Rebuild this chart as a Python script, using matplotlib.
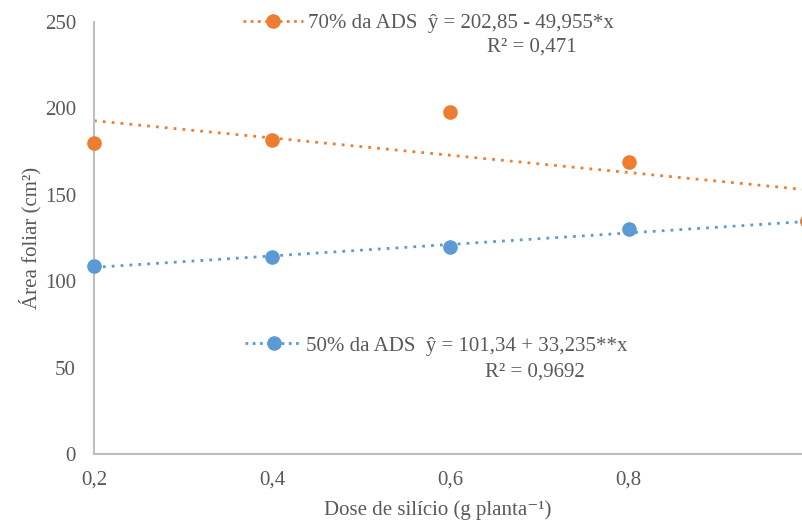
import matplotlib
matplotlib.use("Agg")
import numpy as np
import matplotlib.pyplot as plt
from matplotlib.lines import Line2D

plt.rcParams['font.family'] = ['Liberation Serif', 'DejaVu Serif']

# data
doses = [0.2, 0.4, 0.6, 0.8, 1.0]
area_70 = [180, 182, 198, 169, 135]
area_50 = [109, 114, 120, 130, 135]

# regression coefficients from the labels (intercept, slope)
coef_70 = (202.85, -49.955)
coef_50 = (101.34, 33.235)

xtick_vals = [0.2, 0.4, 0.6, 0.8]
xtick_labels = ['0,2', '0,4', '0,6', '0,8']
ytick_vals = [0, 50, 100, 150, 200, 250]

orange = '#ED7D31'
blue = '#5B9BD5'
txt = '#595959'

W, H = 803, 523
fig = plt.figure(figsize=(W / 100, H / 100), dpi=100)
ax = fig.add_axes([94 / W, (H - 454) / H, (807 - 94) / W, 432 / H])

xx = np.array([doses[0], doses[-1]])
ax.plot(xx, coef_70[0] + coef_70[1] * xx, ls=(0, (1, 2.2)), lw=2, color=orange, clip_on=False)
ax.plot(xx, coef_50[0] + coef_50[1] * xx, ls=(0, (1, 2.2)), lw=2, color=blue, clip_on=False)
ax.plot(doses, area_50, 'o', ms=9.5, color=blue, clip_on=False, zorder=5)
ax.plot(doses, area_70, 'o', ms=9.5, color=orange, clip_on=False, zorder=6)

ax.set_xlim(0.2, 1.0)
ax.set_ylim(0, 250)
ax.set_xticks(xtick_vals)
ax.set_xticklabels(xtick_labels)
ax.set_yticks(ytick_vals)
ax.tick_params(length=0, labelsize=15, colors=txt)
ax.tick_params(axis='x', pad=12)
ax.tick_params(axis='y', pad=13)
for s in ['top', 'right']:
    ax.spines[s].set_visible(False)
for s in ['left', 'bottom']:
    ax.spines[s].set_color('#BFBFBF')
    ax.spines[s].set_linewidth(1.5)

fig.text(30 / W, 1 - 238 / H, 'Área foliar (cm²)', fontsize=15, color=txt,
         rotation=90, ha='center', va='center')
fig.text(438 / W, 1 - 510 / H, 'Dose de silício (g planta⁻¹)',
         fontsize=15, color=txt, ha='center', va='center')

h70 = Line2D([], [], color=orange, ls=(0, (1, 1.6)), lw=2, marker='o', ms=9.5)
h50 = Line2D([], [], color=blue, ls=(0, (1, 1.6)), lw=2, marker='o', ms=9.5)
leg1 = ax.legend([h70], ['70% da ADS  ŷ = 202,85 - 49,955*x'], loc='center left',
                 bbox_to_anchor=(243 / W, 1 - 23 / H), bbox_transform=fig.transFigure,
                 frameon=False, fontsize=15, handlelength=2.9, handletextpad=0.2,
                 borderpad=0, borderaxespad=0, labelcolor=txt)
ax.add_artist(leg1)
ax.legend([h50], ['50% da ADS  ŷ = 101,34 + 33,235**x'], loc='center left',
          bbox_to_anchor=(245 / W, 1 - 346 / H), bbox_transform=fig.transFigure,
          frameon=False, fontsize=15, handlelength=2.75, handletextpad=0.2,
          borderpad=0, borderaxespad=0, labelcolor=txt)
fig.text(487 / W, 1 - 47 / H, 'R² = 0,471', fontsize=15, color=txt, va='center')
fig.text(485 / W, 1 - 372 / H, 'R² = 0,9692', fontsize=15, color=txt, va='center')

fig.savefig('out.png', dpi=100)
